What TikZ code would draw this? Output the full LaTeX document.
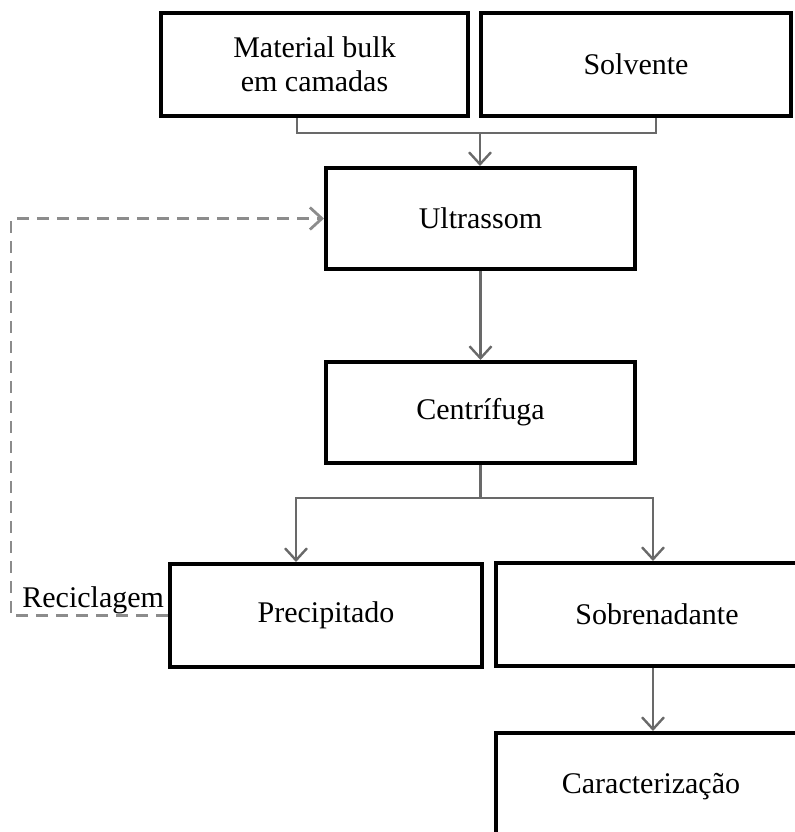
\documentclass[tikz,border=0pt]{standalone}
\usepackage{fontspec}
\setmainfont{Liberation Serif}
\usetikzlibrary{arrows.meta}
\definecolor{linkgray}{RGB}{105,105,105}
\definecolor{dashgray}{RGB}{140,140,140}

\begin{document}
\begin{tikzpicture}[
        x=0.5pt, y=-0.5pt,
        every node/.style={font=\fontsize{15}{17}\selectfont},
        box/.style={rectangle, draw=black, line width=2pt, fill=white, align=center, inner sep=0pt},
        conn/.style={draw=linkgray, line width=1.2pt},
        arr/.style={conn, -{Straight Barb[length=6pt, width=11pt, line width=1.2pt]}},
        dashconn/.style={draw=dashgray, line width=1.4pt, dash pattern=on 6pt off 4pt, -{Straight Barb[length=6pt, width=11pt, line width=1.4pt]}}
    ]
        \useasboundingbox (0,0) rectangle (795,832);

        \node[box, minimum width=153.5pt, minimum height=51.5pt, text depth=-5pt] (bulk) at (314.5,64.5) {Material bulk\\em camadas};
        \node[box, minimum width=155pt, minimum height=51.5pt] (solv) at (636,64.5) {Solvente};
        \node[box, minimum width=154.5pt, minimum height=50.5pt] (ultra) at (480.5,218.5) {Ultrassom};
        \node[box, minimum width=154.5pt, minimum height=50.5pt] (centr) at (480.5,412.5) {Centrífuga};
        \node[box, minimum width=156pt, minimum height=51.5pt] (prec) at (326,615.5) {Precipitado};
        \node[box, minimum width=161pt, minimum height=51.5pt] (sobr) at (657,614.5) {Sobrenadante};
        \node[box, minimum width=155pt, minimum height=54pt] (carac) at (651,787) {Caracterização};
        \node[anchor=base west, inner sep=0pt] (reclab) at (22,607) {Reciclagem};

        \coordinate (join) at (480,133);
        \coordinate (split) at (480.5,498);
        \coordinate (loop) at (11,400);

        \draw[conn] ([xshift=-8.75pt]bulk.south) |- (join) -| ([xshift=10pt]solv.south);
        \draw[arr] (join) -- (join |- ultra.north);
        \draw[arr] (ultra) -- (centr);
        \draw[conn] (centr.south) -- (split);
        \draw[arr] (split) -| ([xshift=-15pt]prec.north);
        \draw[arr] (split) -| ([xshift=-2pt]sobr.north);
        \draw[arr] ([xshift=-2pt]sobr.south) -- ([xshift=-2pt]sobr.south |- carac.north);
        \draw[dashconn] (prec.west) -| (loop) |- (ultra.west);
    \end{tikzpicture}
\end{document}
